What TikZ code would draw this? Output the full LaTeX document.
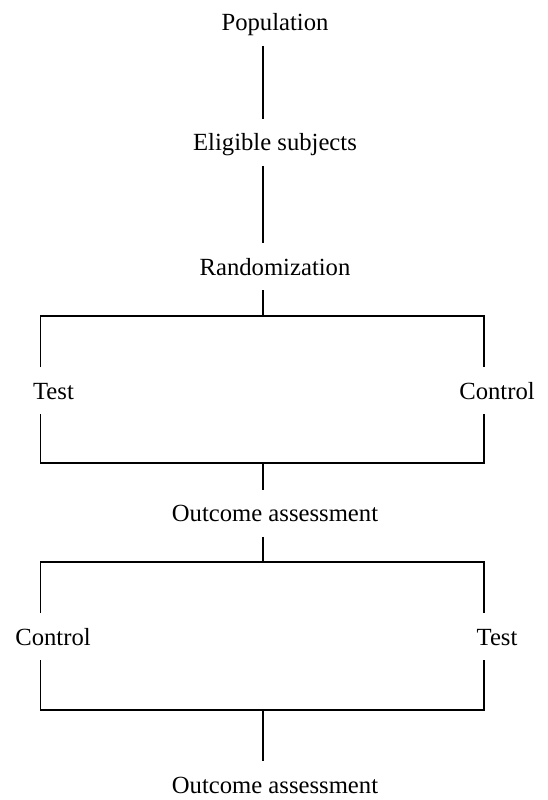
\documentclass[tikz,border=0pt]{standalone}
\usepackage{fontspec}
\setmainfont{Liberation Serif}
\begin{document}
\begin{tikzpicture}[x=0.75pt,y=-0.75pt,
  lbl/.style={anchor=base, inner xsep=0pt, inner ysep=11.25pt,
    text height=12.4pt, text depth=0pt,
    font=\fontsize{18.5}{22}\selectfont},
  link/.style={draw=black, line width=1.1pt}]
\useasboundingbox (0,0) rectangle (548,800);

% stage labels
\node[lbl] (pop)   at (275,30.7)  {Population};
\node[lbl] (elig)  at (275,150.7) {Eligible subjects};
\node[lbl] (rand)  at (275,275)   {Randomization};
\node[lbl] (testA) at (53.5,399)  {Test};
\node[lbl] (ctrlA) at (497,399)   {Control};
\node[lbl] (outA)  at (275,521.7) {Outcome assessment};
\node[lbl] (ctrlB) at (53,645)    {Control};
\node[lbl] (testB) at (497,645)   {Test};
\node[lbl] (outB)  at (275,793)   {Outcome assessment};

% branching and joining points
\coordinate (split1)  at (263,316);
\coordinate (split1L) at (40.7,316);
\coordinate (split1R) at (484,316);
\coordinate (merge1)  at (263,463);
\coordinate (merge1L) at (40.7,463);
\coordinate (merge1R) at (484,463);
\coordinate (split2)  at (263,562);
\coordinate (split2L) at (40.7,562);
\coordinate (split2R) at (484,562);
\coordinate (merge2)  at (263,710);
\coordinate (merge2L) at (40.7,710);
\coordinate (merge2R) at (484,710);

% trunk
\draw[link] (pop.south -| split1) -- (elig.north -| split1);
\draw[link] (elig.south -| split1) -- (rand.north -| split1);
\draw[link] (rand.south -| split1) -- (split1);

% first period
\draw[link] (testA.north -| split1L) -- (split1L) -- (split1R) -- (ctrlA.north -| split1R);
\draw[link] (testA.south -| split1L) -- (merge1L) -- (merge1R) -- (ctrlA.south -| split1R);
\draw[link] (merge1) -- (outA.north -| merge1);

% second period (crossover)
\draw[link] (outA.south -| split2) -- (split2);
\draw[link] (ctrlB.north -| split2L) -- (split2L) -- (split2R) -- (testB.north -| split2R);
\draw[link] (ctrlB.south -| split2L) -- (merge2L) -- (merge2R) -- (testB.south -| split2R);
\draw[link] (merge2) -- (outB.north -| merge2);
\end{tikzpicture}
\end{document}
